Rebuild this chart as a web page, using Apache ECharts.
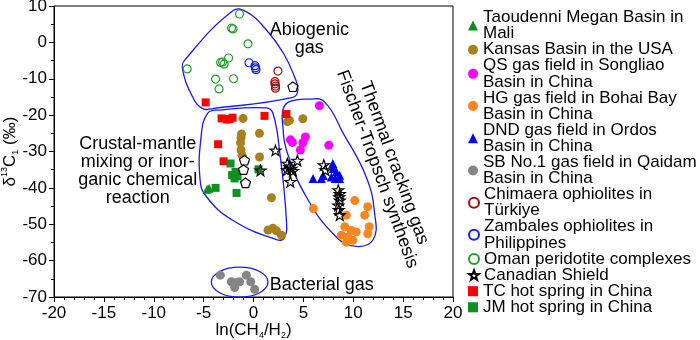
<!DOCTYPE html>
<html>
<head>
<meta charset="utf-8">
<script src="https://cdn.jsdelivr.net/npm/echarts@6/dist/echarts.min.js"></script>
<style>
  html, body { margin: 0; padding: 0; background: #fff; }
  #chart { width: 700px; height: 340px; }
</style>
</head>
<body>
<div id="chart"></div>
<script>
// values: [ln(CH4/H2), d13C1]
var taoudenni = [[-4.65, -40.4], [-4.45, -40.1]]
var kansas = [[-1.05, -20.9], [-1.2, -25.2], [-1.25, -26.3], [-1.3, -27.6], [-1.25, -29.6], [-1.15, -31.0],
  [0.6, -25.0], [0.6, -31.5], [1.8, -42.7], [1.45, -51.6], [1.95, -51.1], [2.3, -51.8], [2.8, -53.0],
  [3.4, -21.8], [3.6, -21.4], [4.95, -21.0]]
var qs = [[6.6, -17.4], [3.7, -26.8], [3.9, -27.5], [5.2, -26.0], [4.95, -27.6], [4.7, -29.6], [7.55, -28.3]]
var hg = [[6.0, -45.7], [10.15, -43.5], [11.45, -45.2], [11.15, -47.5], [9.3, -47.5], [11.6, -50.7], [11.45, -52.6],
  [9.15, -50.7], [9.8, -51.7], [8.8, -53.0], [9.45, -53.5], [9.95, -54.4], [9.3, -54.9], [10.3, -52.1]]
var dnd = [[5.97, -37.4], [6.8, -37.4], [7.0, -36.6], [7.95, -33.3], [8.0, -34.7], [8.3, -35.6], [8.64, -36.5],
  [7.8, -37.0], [8.2, -37.4], [8.64, -37.4]]
var sb = [[-3.33, -64.0], [-2.22, -65.8], [-1.72, -66.1], [-1.89, -67.4], [-1.39, -65.8], [-0.72, -64.0],
  [-0.28, -65.8], [0.12, -67.9]]
var chimaera = [[2.45, -7.9], [2.15, -10.8], [2.15, -11.4], [2.2, -12.0], [2.2, -12.6]]
var zambales = [[-0.45, -5.6], [0.15, -6.4], [0.2, -7.0], [0.25, -7.5]]
var oman = [[-1.4, 7.8], [-2.2, 3.9], [-2.05, 3.7], [-0.55, -0.4], [-2.5, -4.3], [-3.3, -5.5], [-3.1, -5.4],
  [-2.95, -6.0], [-6.65, -7.3], [-3.8, -10.1], [-2.0, -10.0], [-3.45, -12.8]]
var canadian = [[2.2, -29.7], [3.4, -33.3], [3.6, -34.2], [3.8, -34.7], [3.35, -35.1], [3.95, -35.3], [4.4, -32.5],
  [3.7, -38.3], [0.7, -35.2], [7.05, -33.7], [7.2, -35.1], [8.5, -40.6], [8.65, -41.6], [8.6, -42.5],
  [8.65, -43.4], [8.5, -44.8], [8.55, -46.0], [8.65, -47.5]]
var pentagons = [[3.95, -12.2], [-0.9, -32.4], [-1.0, -35.0], [-0.8, -38.6]]
var tc = [[-4.8, -16.5], [-3.2, -20.9], [-2.7, -21.2], [-2.4, -21.1], [-2.1, -20.7], [1.1, -20.2], [3.3, -19.7],
  [-3.55, -28.0], [-3.0, -32.7]]
var jm = [[-2.3, -33.3], [-2.15, -36.5], [-1.8, -35.6], [-1.9, -37.4], [-1.6, -36.8], [-3.8, -40.0],
  [-1.7, -41.4], [0.5, -34.9]]

// hand drawn field outlines (data units)
var abiogenicZone = [[-7.1, -7.6], [-6.9, -4.9], [-2.1, 8.6], [-0.7, 8.4], [1.3, 3.4], [3.0, -3.0], [4.1, -9.4],
  [4.45, -13.1], [3.95, -15.1], [-4.1, -18.2], [-5.1, -18.2], [-6.1, -15.0]]
var crustalZone = [[-5.25, -25.9], [-4.6, -19.5], [-3.4, -18.6], [1.3, -18.0], [1.95, -19.5], [2.6, -29.6],
  [3.3, -48.9], [3.1, -53.7], [2.3, -54.2], [-2.1, -48.9], [-4.7, -42.5], [-5.35, -37.9]]
var thermalZone = [[2.95, -18.6], [3.6, -16.3], [5.6, -15.6], [7.1, -16.3], [9.0, -25.0], [11.3, -37.0],
  [12.15, -47.1], [12.0, -54.2], [10.3, -56.1], [8.3, -53.5], [5.3, -42.5], [3.3, -29.6], [2.95, -23.2]]
var bacterialZone = { center: [-1.39, -65.9], radius: [2.84, 4.13] }

var notes = [
  { text: 'Abiogenic\ngas', at: [5.6, 0.9], rotate: 0 },
  { text: 'Crustal-mantle\nmixing or inor-\nganic chemical\nreaction', at: [-11.6, -35.4], rotate: 0 },
  { text: 'Bacterial gas', at: [6.85, -66.8], rotate: 0 },
  { text: 'Thermal cracking gas\nFischer-Tropsch synthesis', at: [13.25, -34.0], rotate: -70 }
]

var FONT = 'Liberation Sans'
var STAR = 'path://M0,-10L2.35,-3.24L9.51,-3.09L3.8,1.24L5.88,8.09L0,4L-5.88,8.09L-3.8,1.24L-9.51,-3.09L-2.35,-3.24Z'
var PENTA = 'path://M0,-10L9.51,-3.09L5.88,8.09L-5.88,8.09L-9.51,-3.09Z'

function filled (name, data, symbol, size, color) {
  return { name: name, type: 'scatter', data: data, symbol: symbol, symbolSize: size, z: 3,
    itemStyle: { color: color, opacity: 1 } }
}
function open (name, data, symbol, size, color, fill) {
  return { name: name, type: 'scatter', data: data, symbol: symbol, symbolSize: size, symbolKeepAspect: true, z: 4,
    itemStyle: { color: fill || 'transparent', borderColor: color, borderWidth: 1.2, opacity: 1 } }
}
function outline (points) {
  return { type: 'custom', silent: true, z: 2, data: [[0, 0]],
    renderItem: function (params, api) {
      return { type: 'polygon', shape: { points: points.map(function (p) { return api.coord(p) }), smooth: 0.45 },
        style: { fill: 'none', stroke: '#1a1ae6', lineWidth: 1.3 } }
    } }
}

var names = ['Taoudenni Megan Basin in\nMali', 'Kansas Basin in the USA', 'QS gas field in Songliao\nBasin in China',
  'HG gas field in Bohai Bay\nBasin in China', 'DND gas field in Ordos\nBasin in China',
  'SB No.1 gas field in Qaidam\nBasin in China', 'Chimaera ophiolites in\nTürkiye',
  'Zambales ophiolites in\nPhilippines', 'Oman peridotite complexes', 'Canadian Shield',
  'TC hot spring in China', 'JM hot spring in China']

// one legend block per entry so that wrapped names keep an even line pitch
var legends = []
var line = 0
names.forEach(function (n) {
  legends.push({
    data: [n], orient: 'vertical', left: 463, top: 4 + line * 16.1, itemWidth: 10, itemHeight: 10,
    selectedMode: false,
    textStyle: { fontSize: 17, lineHeight: 16.1, color: '#000', fontFamily: FONT }
  })
  line += n.split('\n').length
})

var myChart = echarts.init(document.getElementById('chart'))
myChart.setOption({
  animation: false,
  textStyle: { fontFamily: FONT },
  grid: { left: 54, top: 6, width: 399, height: 291, show: true, borderColor: '#000', borderWidth: 1,
    outerBoundsMode: 'none', containLabel: false },
  legend: legends,
  xAxis: {
    type: 'value', min: -20, max: 20, interval: 5,
    name: 'ln(CH{s|4}/H{s|2})', nameLocation: 'middle', nameGap: 23, nameMoveOverlap: false,
    nameTextStyle: { fontSize: 17, color: '#000', lineHeight: 20, rich: { s: { fontSize: 9, verticalAlign: 'bottom', color: '#000' } } },
    axisLine: { onZero: false, lineStyle: { color: '#000', width: 1 } },
    axisTick: { length: 5, lineStyle: { color: '#000' } },
    minorTick: { show: true, splitNumber: 5, length: 3, lineStyle: { color: '#000' } },
    axisLabel: { fontSize: 17, color: '#000', margin: 8 },
    splitLine: { show: false }
  },
  yAxis: {
    type: 'value', min: -70, max: 10, interval: 10,
    name: '{n|δ}{sup|13}{n|C}{sub|1}{n| (‰)}', nameLocation: 'middle', nameGap: 34, nameMoveOverlap: false,
    nameTextStyle: { color: '#000', rich: {
      n: { fontSize: 17, color: '#000', lineHeight: 20 },
      sup: { fontSize: 9, color: '#000', verticalAlign: 'top', lineHeight: 20 },
      sub: { fontSize: 9, color: '#000', verticalAlign: 'bottom', lineHeight: 20 }
    } },
    axisLine: { onZero: false, lineStyle: { color: '#000', width: 1 } },
    axisTick: { length: 5, lineStyle: { color: '#000' } },
    minorTick: { show: true, splitNumber: 2, length: 3, lineStyle: { color: '#000' } },
    axisLabel: { fontSize: 17, color: '#000', margin: 7 },
    splitLine: { show: false }
  },
  series: [
    outline(abiogenicZone),
    outline(crustalZone),
    outline(thermalZone),
    { type: 'custom', silent: true, z: 2, data: [[0, 0]],
      renderItem: function (params, api) {
        var c = api.coord(bacterialZone.center)
        var r = api.size(bacterialZone.radius)
        return { type: 'ellipse', shape: { cx: c[0], cy: c[1], rx: r[0], ry: r[1] },
          style: { fill: 'none', stroke: '#1a1ae6', lineWidth: 1.3 } }
      } },
    filled(names[0], taoudenni, 'triangle', 9, '#0e8c22'),
    filled(names[1], kansas, 'circle', 9, '#a8801e'),
    filled(names[2], qs, 'circle', 9, '#ff00ff'),
    filled(names[3], hg, 'circle', 9, '#fb8620'),
    filled(names[4], dnd, 'triangle', 9, '#0000ff'),
    filled(names[5], sb, 'circle', 9, '#858585'),
    open(names[6], chimaera, 'circle', 8, '#9a1010'),
    open(names[7], zambales, 'circle', 8, '#1020f0'),
    open(names[8], oman, 'circle', 8, '#22a02a'),
    open(names[9], canadian, STAR, 11, '#000'),
    open('pentagon', pentagons, PENTA, 10, '#000', '#fff'),
    filled(names[10], tc, 'rect', 8, '#ff0000'),
    filled(names[11], jm, 'rect', 8, '#109020'),
    { type: 'scatter', silent: true, symbolSize: 0, z: 5, itemStyle: { opacity: 1 },
      data: notes.map(function (n) {
        return { value: n.at, label: { show: true, position: 'inside', formatter: n.text, rotate: n.rotate,
          fontSize: 18, lineHeight: 18, color: '#000', opacity: 1, align: 'center', verticalAlign: 'middle', fontFamily: FONT } }
      }) }
  ]
})
</script>
</body>
</html>
